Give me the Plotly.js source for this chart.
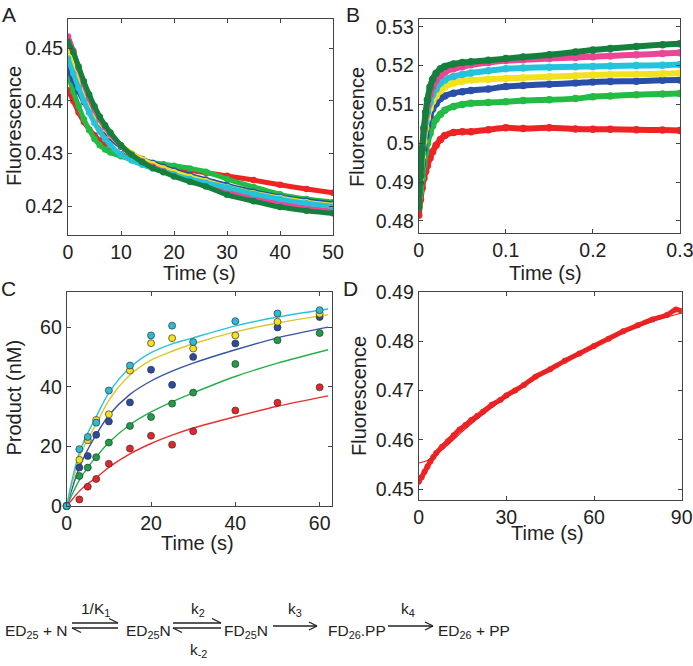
<!DOCTYPE html>
<html>
<head>
<meta charset="utf-8">
<script src="https://cdn.plot.ly/plotly-3.0.1.min.js"></script>
<style>html,body{margin:0;padding:0;background:#fff;}#chart{width:693px;height:666px;}</style>
</head>
<body>
<div id="chart"></div>
<script>
// ---------- Panel A: fluorescence decay (0-50 s) ----------
const tA = [0,1,2,3,4,5,6,7,8,10,12,14,16,18,20,23,26,30,35,40,45,50];
const A_red    = [0.4420,0.4400,0.4378,0.4360,0.4346,0.4335,0.4325,0.4317,0.4310,0.4299,0.4291,0.4285,0.4280,0.4276,0.4273,0.4268,0.4264,0.4258,0.4250,0.4241,0.4233,0.4226];
const A_green  = [0.4450,0.4418,0.4390,0.4365,0.4345,0.4328,0.4316,0.4308,0.4302,0.4295,0.4290,0.4286,0.4283,0.4280,0.4277,0.4272,0.4266,0.4252,0.4237,0.4223,0.4214,0.4208];
const A_blue   = [0.4460,0.4440,0.4418,0.4398,0.4380,0.4365,0.4352,0.4340,0.4330,0.4313,0.4300,0.4290,0.4282,0.4275,0.4268,0.4259,0.4251,0.4240,0.4228,0.4218,0.4211,0.4205];
const A_yellow = [0.4502,0.4475,0.4445,0.4418,0.4396,0.4376,0.4360,0.4347,0.4335,0.4316,0.4301,0.4289,0.4280,0.4272,0.4265,0.4256,0.4248,0.4237,0.4225,0.4216,0.4208,0.4202];
const A_pink   = [0.4522,0.4495,0.4462,0.4432,0.4405,0.4383,0.4365,0.4350,0.4337,0.4315,0.4298,0.4285,0.4275,0.4267,0.4260,0.4250,0.4242,0.4231,0.4218,0.4206,0.4197,0.4191];
const A_cyan   = [0.4480,0.4452,0.4425,0.4400,0.4378,0.4358,0.4342,0.4328,0.4316,0.4298,0.4287,0.4279,0.4272,0.4266,0.4260,0.4252,0.4245,0.4236,0.4224,0.4214,0.4206,0.4200];
const A_dkgreen= [0.4512,0.4492,0.4465,0.4437,0.4412,0.4390,0.4370,0.4354,0.4340,0.4316,0.4298,0.4284,0.4273,0.4265,0.4257,0.4247,0.4238,0.4222,0.4210,0.4199,0.4192,0.4187];

// ---------- Panel B: fluorescence rise (0-0.3 s) ----------
const tB = [0,0.002,0.004,0.006,0.008,0.01,0.013,0.016,0.02,0.025,0.03,0.04,0.05,0.06,0.08,0.1,0.12,0.15,0.18,0.2,0.22,0.25,0.28,0.3];
const B_red    = [0.4815,0.4855,0.4885,0.4910,0.4928,0.4943,0.4962,0.4978,0.4995,0.5010,0.5020,0.5028,0.5030,0.5030,0.5035,0.5040,0.5038,0.5040,0.5037,0.5036,0.5036,0.5035,0.5034,0.5033];
const B_green  = [0.4840,0.4875,0.4910,0.4945,0.4975,0.5000,0.5025,0.5045,0.5062,0.5075,0.5085,0.5095,0.5100,0.5103,0.5105,0.5107,0.5110,0.5112,0.5115,0.5120,0.5122,0.5125,0.5127,0.5128];
const B_blue   = [0.4855,0.4900,0.4945,0.4985,0.5020,0.5045,0.5070,0.5088,0.5102,0.5115,0.5122,0.5129,0.5133,0.5136,0.5140,0.5146,0.5149,0.5152,0.5155,0.5158,0.5159,0.5160,0.5162,0.5163];
const B_yellow = [0.4860,0.4910,0.4965,0.5005,0.5040,0.5065,0.5090,0.5108,0.5122,0.5135,0.5145,0.5155,0.5160,0.5163,0.5165,0.5167,0.5169,0.5171,0.5174,0.5176,0.5177,0.5178,0.5179,0.5180];
const B_cyan   = [0.4865,0.4925,0.4980,0.5020,0.5055,0.5080,0.5105,0.5125,0.5140,0.5155,0.5163,0.5172,0.5177,0.5181,0.5187,0.5192,0.5194,0.5196,0.5197,0.5198,0.5199,0.5200,0.5201,0.5203];
const B_pink   = [0.4865,0.4930,0.4990,0.5035,0.5070,0.5098,0.5125,0.5145,0.5162,0.5175,0.5183,0.5192,0.5197,0.5202,0.5208,0.5213,0.5215,0.5218,0.5221,0.5223,0.5225,0.5228,0.5231,0.5233];
const B_dkgreen= [0.4835,0.4915,0.4985,0.5040,0.5080,0.5112,0.5145,0.5165,0.5180,0.5192,0.5198,0.5204,0.5208,0.5210,0.5214,0.5218,0.5222,0.5228,0.5235,0.5240,0.5244,0.5249,0.5254,0.5256];

// ---------- Panel C: product (nM) vs time ----------
const tC = [0,3,5,7,10,15,20,25,30,40,50,60];
const C_cyan   = [0,19.1,23.2,28.0,38.8,47.2,57.3,60.6,55.1,62.1,64.7,65.8];
const C_yellow = [0,15.5,22.1,28.9,30.8,45.5,54.7,56.4,52.9,57.3,61.9,64.6];
const C_blue   = [0,12.9,16.8,23.9,28.4,34.8,45.8,40.7,50.1,54.6,60.0,63.5];
const C_green  = [0,10.1,12.9,16.4,21.3,26.9,29.9,34.4,38.1,47.7,55.7,58.1];
const C_red    = [0,2.2,6.5,9.1,14.2,19.3,23.6,20.6,25.1,32.1,34.7,39.9];
// fitted curves
const tCfit = [0,1,2,3,5,7,10,15,20,25,30,40,50,62];
const Cf_cyan   = [0,7,13,18,24.5,30,38,46.5,51.5,54.5,56.5,60.5,63.5,66.2];
const Cf_yellow = [0,6,11.5,16.5,22.5,27.5,35.5,44,49,52,54.5,58.5,61.5,64.3];
const Cf_blue   = [0,4.5,9,13,19,24,30.5,37.5,42,45.3,48,52.5,56.5,60.1];
const Cf_green  = [0,3,6,8.7,13,16.5,21.3,27.3,31.6,35,38,43.5,48,52.5];
const Cf_red    = [0,1.7,3.4,5,7.5,9.5,13,17.5,21,23.8,26.2,30,33.5,37];

// ---------- Panel D: slow fluorescence rise (0-90 s) ----------
const tD = [0,1,2,3,4,5,6,8,10,12,14,16,18,20,22,25,28,30,33,36,40,45,50,55,60,65,70,75,80,85,88,90];
const D_data = [0.4515,0.4524,0.4535,0.4546,0.4556,0.4565,0.4573,0.4586,0.4597,0.4609,0.4621,0.4630,0.4640,0.4648,0.4657,0.4671,0.4681,0.4690,0.4700,0.4711,0.4728,0.4743,0.4760,0.4775,0.4790,0.4805,0.4820,0.4832,0.4844,0.4853,0.4864,0.4861];
const tDfit = [0,3,6,10,15,20,25,30,40,50,60,70,80,90];
const D_fit = [0.4553,0.4558,0.4570,0.4590,0.4617,0.4642,0.4665,0.4686,0.4725,0.4760,0.4791,0.4818,0.4840,0.4857];

// tick labels
const tickA_y = [0.42,0.43,0.44,0.45], tickA_yt = ['0.42','0.43','0.44','0.45'];
const tickA_x = [0,10,20,30,40,50];
const tickB_y = [0.48,0.49,0.5,0.51,0.52,0.53], tickB_yt = ['0.48','0.49','0.5','0.51','0.52','0.53'];
const tickB_x = [0,0.1,0.2,0.3], tickB_xt = ['0','0.1','0.2','0.3'];
const tickC_y = [0,20,40,60], tickC_x = [0,20,40,60];
const tickD_y = [0.45,0.46,0.47,0.48,0.49], tickD_yt = ['0.45','0.46','0.47','0.48','0.49'];
const tickD_x = [0,30,60,90];

// colours
const col = {red:'#ee2424', green:'#22bb44', blue:'#2a4fa8', yellow:'#f2e21e', pink:'#ec4596', cyan:'#24c3d9', dkgreen:'#14803e'};
const cPt = {cyan:'#2abcd6', yellow:'#f4e01e', blue:'#2b4c9c', green:'#1d9f49', red:'#e3262b'};
const cLn = {cyan:'#2ac4da', yellow:'#dcc72a', blue:'#3654a8', green:'#24b04c', red:'#e8302f'};

const W = 693, H = 666;
const px = v => v / W, py = v => 1 - v / H;

const traces = [];
function band(x, y, c, xa, ya, w) {
  traces.push({x:x, y:y, xaxis:xa, yaxis:ya, type:'scatter', mode:'lines+markers',
    line:{color:c, width:w, shape:'spline', smoothing:0.6}, marker:{color:c, size:w+1.5}, hoverinfo:'skip', cliponaxis:true});
}
const Aser = [[A_red,'red'],[A_green,'green'],[A_blue,'blue'],[A_yellow,'yellow'],[A_pink,'pink'],[A_cyan,'cyan'],[A_dkgreen,'dkgreen']];
Aser.forEach(s => band(tA, s[0], col[s[1]], 'x', 'y', 5));
const Bser = [[B_red,'red'],[B_green,'green'],[B_blue,'blue'],[B_yellow,'yellow'],[B_cyan,'cyan'],[B_pink,'pink'],[B_dkgreen,'dkgreen']];
Bser.forEach(s => band(tB, s[0], col[s[1]], 'x2', 'y2', 6));

const Cfit = [[Cf_red,'red'],[Cf_green,'green'],[Cf_blue,'blue'],[Cf_yellow,'yellow'],[Cf_cyan,'cyan']];
Cfit.forEach(s => traces.push({x:tCfit, y:s[0], xaxis:'x3', yaxis:'y3', type:'scatter', mode:'lines',
  line:{color:cLn[s[1]], width:1.4, shape:'spline', smoothing:0.8}, hoverinfo:'skip'}));
const Cpts = [[C_red,'red'],[C_green,'green'],[C_blue,'blue'],[C_yellow,'yellow'],[C_cyan,'cyan']];
Cpts.forEach(s => traces.push({x:tC, y:s[0], xaxis:'x3', yaxis:'y3', type:'scatter', mode:'markers', cliponaxis:false,
  marker:{color:cPt[s[1]], size:7, line:{color:'#333', width:0.7}}, hoverinfo:'skip'}));

traces.push({x:tD, y:D_data, xaxis:'x4', yaxis:'y4', type:'scatter', mode:'lines+markers',
  line:{color:'#ee2424', width:5, shape:'spline', smoothing:0.5}, marker:{color:'#ee2424', size:6}, hoverinfo:'skip'});
traces.push({x:tDfit, y:D_fit, xaxis:'x4', yaxis:'y4', type:'scatter', mode:'lines',
  line:{color:'#e02020', width:1.2, shape:'spline'}, hoverinfo:'skip'});

const FONT = 'Liberation Sans, Arial, Helvetica, sans-serif';
const tickFont = {family:FONT, size:19.5, color:'#222'};
function ax(domain, range, tv, tt, anchor) {
  const a = {domain:domain, range:range, anchor:anchor, showgrid:false, zeroline:false, showline:true, mirror:'ticks',
    linecolor:'#444', linewidth:1, ticks:'inside', ticklen:4, tickcolor:'#444', tickwidth:1,
    tickmode:'array', tickvals:tv, tickfont:tickFont, fixedrange:true, ticklabeloverflow:'allow'};
  if (tt) a.ticktext = tt;
  return a;
}

const layout = {
  width:W, height:H, margin:{l:0, r:0, t:0, b:0}, showlegend:false,
  paper_bgcolor:'#fff', plot_bgcolor:'#fff', font:{family:FONT, color:'#222'},
  xaxis:  ax([px(68), px(333)], [0,50.001], tickA_x, null, 'y'),
  yaxis:  ax([py(235), py(19)], [0.4146,0.4555], tickA_y, tickA_yt, 'x'),
  xaxis2: ax([px(418.7), px(680)], [0,0.3001], tickB_x, tickB_xt, 'y2'),
  yaxis2: ax([py(233), py(19)], [0.4769,0.5320], tickB_y, tickB_yt, 'x2'),
  xaxis3: ax([px(66.7), px(332.3)], [0,63], tickC_x, null, 'y3'),
  yaxis3: ax([py(506), py(291.7)], [0,72], tickC_y, null, 'x3'),
  xaxis4: ax([px(418.7), px(681.7)], [0,90.01], tickD_x, null, 'y4'),
  yaxis4: ax([py(500), py(291.7)], [0.4478,0.49001], tickD_y, tickD_yt, 'x4'),
  annotations: [],
  shapes: []
};

function txt(t, x, y, size, rot) {
  layout.annotations.push({text:t, x:px(x), y:py(y), xref:'paper', yref:'paper', showarrow:false,
    xanchor:'center', yanchor:'middle', textangle:rot||0, font:{family:FONT, size:size, color:'#222'}});
}
// panel letters
txt('A', 9, 15, 21); txt('B', 353, 15, 21); txt('C', 8, 288, 21); txt('D', 351, 289, 21);
// axis titles
txt('Fluorescence', 14, 126, 20, -90); txt('Time (s)', 200, 273, 20);
txt('Fluorescence', 357, 127, 20, -90); txt('Time (s)', 545, 273, 20);
txt('Product (nM)', 13.5, 398, 20, -90); txt('Time (s)', 197, 543, 20);
txt('Fluorescence', 359, 396, 20, -90); txt('Time (s)', 547, 533, 20);

// reaction scheme
const SY = 631, SF = 15.5;
txt('ED<sub>25</sub> + N', 36, SY, SF);
txt('ED<sub>25</sub>N', 148, SY, SF);
txt('FD<sub>25</sub>N', 246, SY, SF);
txt('FD<sub>26</sub>.PP', 357, SY, SF);
txt('ED<sub>26</sub> + PP', 474, SY, SF);
txt('1/K<sub>1</sub>', 95, 609, SF);
txt('k<sub>2</sub>', 198, 609, SF);
txt('k<sub>-2</sub>', 198, 650, SF);
txt('k<sub>3</sub>', 295, 609, SF);
txt('k<sub>4</sub>', 408, 609, SF);

function seg(x0,y0,x1,y1){
  layout.shapes.push({type:'line', xref:'paper', yref:'paper', x0:px(x0), y0:py(y0), x1:px(x1), y1:py(y1), line:{color:'#222', width:1.3}});
}
function eqArrows(xa, xb){
  // upper: right-pointing harpoon (barb above); lower: left-pointing harpoon (barb below)
  seg(xa, 623, xb, 623); seg(xb, 623, xb-9, 618.5);
  seg(xa, 628, xb, 628); seg(xa, 628, xa+9, 632.5);
}
eqArrows(72, 118);
eqArrows(173, 221);
function arrow(xa, xb, y){
  seg(xa, y, xb, y); seg(xb, y, xb-8, y-4); seg(xb, y, xb-8, y+4);
}
arrow(273, 317, 626);
arrow(388, 433, 626);

Plotly.newPlot('chart', traces, layout, {staticPlot:true, displayModeBar:false});
</script>
</body>
</html>
